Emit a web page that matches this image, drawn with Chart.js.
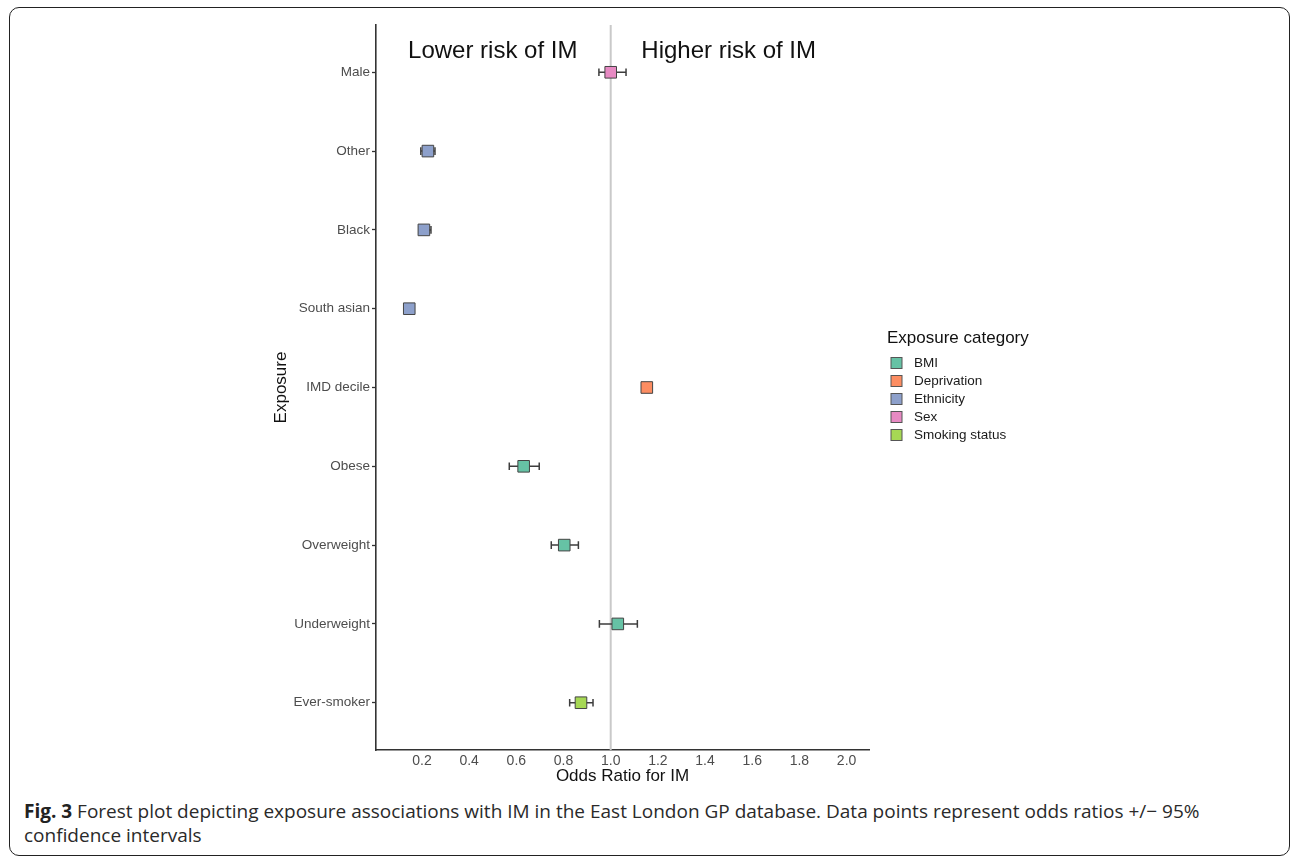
<!DOCTYPE html>
<html>
<head>
<meta charset="utf-8">
<script src="https://cdn.jsdelivr.net/npm/chart.js@4.4.1/dist/chart.umd.min.js"></script>
<style>
  html, body { margin: 0; padding: 0; background: #ffffff; }
  body { width: 1293px; height: 856px; position: relative; overflow: hidden; }
  #frame { position: absolute; left: 9px; top: 7px; width: 1281px; height: 849px;
           border: 1.5px solid #222; border-radius: 10px; box-sizing: border-box; }
  #chart { position: absolute; left: 0; top: 0; }
  #caption { position: absolute; left: 24px; top: 799px; width: 1200px;
             font-family: "Open Sans", "Noto Sans", sans-serif; font-size: 19px;
             line-height: 24px; color: #2a2a2a; }
  #caption b { font-weight: 700; color: #222; }
</style>
</head>
<body>
<div id="frame"></div>
<canvas id="chart" width="1293" height="790"></canvas>
<div id="caption"><b>Fig. 3</b> Forest plot depicting exposure associations with IM in the East London GP database. Data points represent odds ratios +/− 95% confidence intervals</div>
<script>
// ---- data ----
const exposures   = ['Male', 'Other', 'Black', 'South asian', 'IMD decile', 'Obese', 'Overweight', 'Underweight', 'Ever-smoker'];
const exposureCat = ['Sex', 'Ethnicity', 'Ethnicity', 'Ethnicity', 'Deprivation', 'BMI', 'BMI', 'BMI', 'Smoking status'];
const oddsRatio   = [1.00, 0.225, 0.208, 0.146, 1.153, 0.631, 0.803, 1.030, 0.874];
const ciLower     = [0.950, 0.195, 0.188, 0.132, 1.142, 0.570, 0.748, 0.952, 0.826];
const ciUpper     = [1.065, 0.255, 0.238, 0.160, 1.165, 0.697, 0.863, 1.113, 0.925];
const categories  = ['BMI', 'Deprivation', 'Ethnicity', 'Sex', 'Smoking status'];
const catColors   = ['#66c2a5', '#fc8d62', '#8da0cb', '#e78ac3', '#a6d854'];
const xTicks      = [0.2, 0.4, 0.6, 0.8, 1.0, 1.2, 1.4, 1.6, 1.8, 2.0];
const refLine     = 1.0;
const riskLabels  = ['Lower risk of IM', 'Higher risk of IM'];
const riskLabelX  = [0.5, 1.5];
const riskLabelY  = -0.26;

Chart.defaults.font.family = '"Liberation Sans", Arial, Helvetica, sans-serif';

const datasets = categories.map((cat, ci) => ({
  label: cat,
  data: exposures.map((e, i) => exposureCat[i] === cat ? { x: oddsRatio[i], y: i } : null).filter(p => p),
  backgroundColor: catColors[ci],
  borderColor: '#444',
  borderWidth: 1,
  pointStyle: 'rect',
  pointRadius: 8.2,
  pointHoverRadius: 8.2,
  showLine: false
}));

const forestPlugin = {
  id: 'forest',
  beforeDatasetsDraw(chart) {
    const { ctx, chartArea, scales: { x, y } } = chart;
    ctx.save();
    // reference line
    const rx = x.getPixelForValue(refLine);
    ctx.strokeStyle = '#c9c9c9';
    ctx.lineWidth = 2;
    ctx.beginPath();
    ctx.moveTo(rx, chartArea.top);
    ctx.lineTo(rx, chartArea.bottom);
    ctx.stroke();
    // error bars
    ctx.strokeStyle = '#3d3d3d';
    ctx.lineWidth = 1.5;
    exposures.forEach((e, i) => {
      const py = y.getPixelForValue(i);
      const x1 = x.getPixelForValue(ciLower[i]);
      const x2 = x.getPixelForValue(ciUpper[i]);
      ctx.beginPath();
      ctx.moveTo(x1, py); ctx.lineTo(x2, py);
      ctx.moveTo(x1, py - 3.8); ctx.lineTo(x1, py + 3.8);
      ctx.moveTo(x2, py - 3.8); ctx.lineTo(x2, py + 3.8);
      ctx.stroke();
    });
    ctx.restore();
  },
  afterDraw(chart) {
    const { ctx, chartArea, scales: { x, y } } = chart;
    ctx.save();
    // risk annotations
    ctx.fillStyle = '#111';
    ctx.font = '24px "Liberation Sans", Arial, sans-serif';
    ctx.textAlign = 'center';
    ctx.textBaseline = 'middle';
    riskLabels.forEach((t, i) => {
      ctx.fillText(t, x.getPixelForValue(riskLabelX[i]), y.getPixelForValue(riskLabelY));
    });
    // legend
    const lx = chartArea.right + 18;
    const ly = 338;
    ctx.textAlign = 'left';
    ctx.fillStyle = '#111';
    ctx.font = '17px "Liberation Sans", Arial, sans-serif';
    ctx.fillText('Exposure category', lx, ly);
    ctx.font = '13.5px "Liberation Sans", Arial, sans-serif';
    categories.forEach((c, i) => {
      const cy = ly + 25 + i * 18;
      ctx.fillStyle = catColors[i];
      ctx.fillRect(lx + 4, cy - 5.5, 11, 11);
      ctx.strokeStyle = '#555';
      ctx.lineWidth = 1;
      ctx.strokeRect(lx + 4, cy - 5.5, 11, 11);
      ctx.fillStyle = '#1a1a1a';
      ctx.fillText(c, lx + 27, cy);
    });
    ctx.restore();
  }
};

new Chart(document.getElementById('chart'), {
  type: 'scatter',
  data: { datasets },
  plugins: [forestPlugin],
  options: {
    responsive: false,
    animation: false,
    events: [],
    layout: { padding: { left: 267, top: 25, right: 424, bottom: 0 } },
    plugins: { legend: { display: false }, tooltip: { enabled: false } },
    scales: {
      x: {
        type: 'linear',
        min: 0.005,
        max: 2.095,
        afterBuildTicks: s => { s.ticks = xTicks.map(v => ({ value: v })); },
        afterFit: s => { s.height = 40; },
        ticks: { callback: v => Number(v).toFixed(1), color: '#4d4d4d', font: { size: 14 }, padding: 3, maxRotation: 0, autoSkip: false },
        grid: { display: true, drawOnChartArea: false, drawTicks: false },
        border: { display: true, color: '#333', width: 1.6 },
        title: { display: true, text: 'Odds Ratio for IM', color: '#111', font: { size: 17 }, padding: { top: 0, bottom: 3 } }
      },
      y: {
        type: 'linear',
        reverse: true,
        min: -0.6,
        max: 8.6,
        afterBuildTicks: s => { s.ticks = exposures.map((e, i) => ({ value: i })); },
        afterFit: s => { s.width = 109; },
        ticks: { callback: v => exposures[v], color: '#4d4d4d', font: { size: 13.5 }, padding: 2, autoSkip: false },
        grid: { display: true, drawOnChartArea: false, drawTicks: true, tickLength: 4, color: '#333', tickWidth: 1.3 },
        border: { display: true, color: '#333', width: 1.6 },
        title: { display: true, text: 'Exposure', color: '#111', font: { size: 17 }, padding: { top: 4, bottom: 4 } }
      }
    }
  }
});
</script>
</body>
</html>
